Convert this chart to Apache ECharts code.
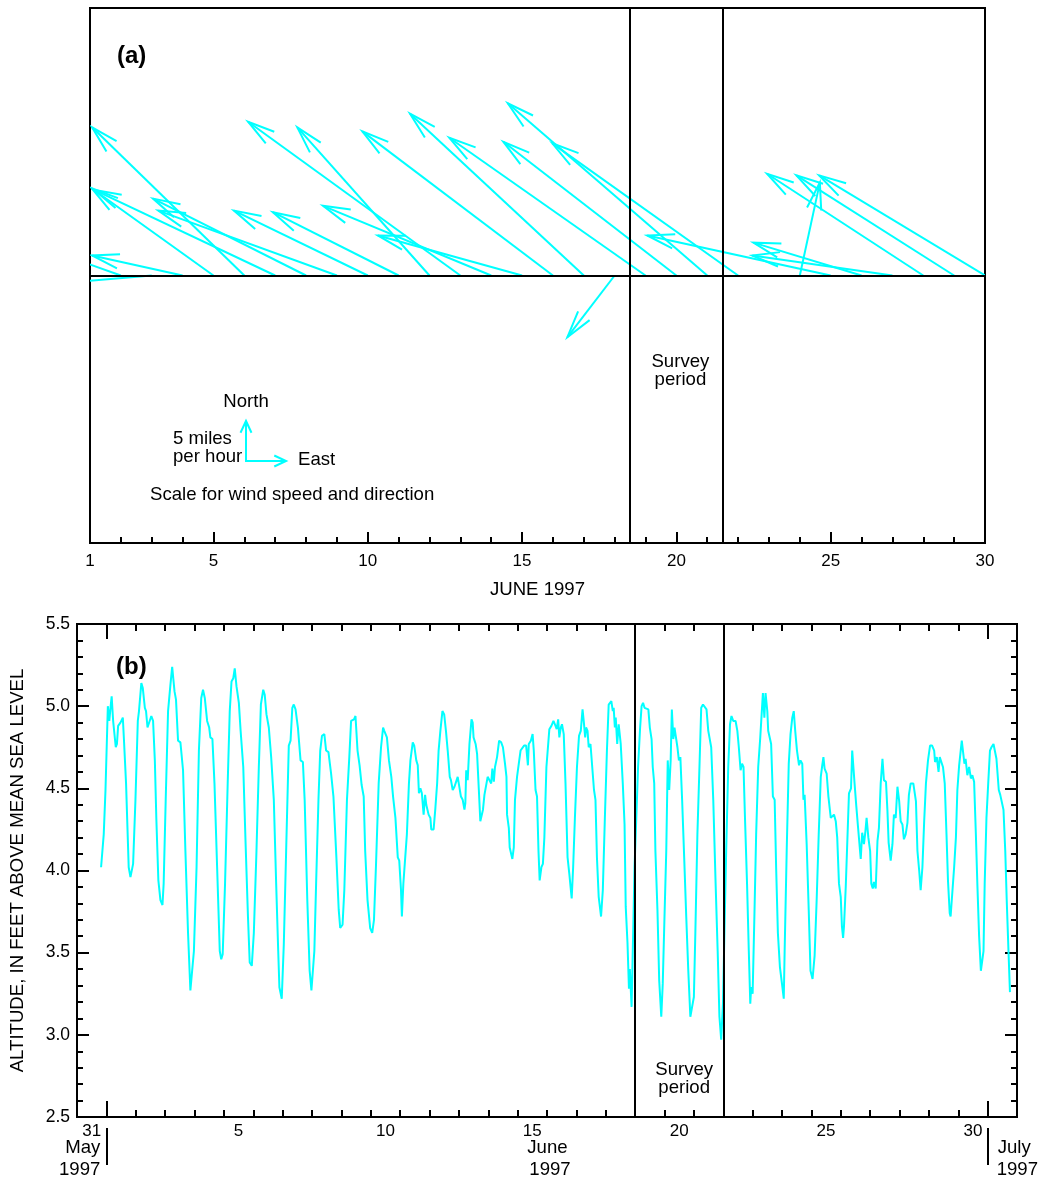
<!DOCTYPE html>
<html>
<head>
<meta charset="utf-8">
<script src="https://cdn.jsdelivr.net/npm/echarts@6/dist/echarts.min.js"></script>
<style>
html,body{margin:0;padding:0;background:#ffffff;}
#c{width:1038px;height:1177px;}
</style>
</head>
<body>
<div id="c"></div>
<script>
// ---------- Panel (a): daily wind vectors, June 1997 ----------
const windDay   = [1,2,3,4,5,6,7,8,9,10,11,12,13,14,15,16,17,18,19,20,21,22,23,24,25,26,27,28,29,30];
// eastward component, miles per hour (negative = toward west)
const windEast  = [-15,-14,-12,-11.3,-15.2,-19.0,-22.6,-19.1,-22.3,-16.7,-15.7,-16.5,-26.5,-21.0,-18.0,-23.8,-21.7,-5.9,-24.5,-21.6,-24.9,-23.2,0,2.5,-22.9,-13.5,-17.5,-19.5,-19.7,-20.7];
// northward component, miles per hour (negative = toward south)
const windNorth = [3,5,-1,2.5,10.9,18.5,10.7,9.6,8.1,8.1,7.9,18.5,19.2,8.7,5.0,18.0,20.2,-7.7,17.2,16.7,21.5,16.5,0,11.6,5.0,4.1,2.5,12.7,12.5,12.5];
const windTickLabels = [1,5,10,15,20,25,30];
const windMajorTicks = [5,10,15,20,25];
const surveyA = [18.5, 21.5];
const scaleMph = 5;

// ---------- Panel (b): water level, days since 31 May 1997 00:00 ----------
const levelDay = [0.82,0.91,0.97,1.05,1.10,1.14,1.18,1.23,1.32,1.36,1.40,1.48,1.56,1.60,1.67,1.76,1.82,1.87,1.91,1.99,
2.07,2.11,2.19,2.24,2.31,2.35,2.40,2.46,2.53,2.59,2.65,2.70,2.77,2.84,2.91,2.95,3.02,3.10,3.18,3.24,3.28,3.32,3.37,3.44,3.52,3.61,3.69,3.78,3.86,3.92,3.98,
4.07,4.15,4.23,4.29,4.35,4.43,4.50,4.54,4.61,4.68,4.77,4.86,4.91,4.96,5.04,5.13,5.20,5.26,5.32,5.37,5.43,5.51,5.57,5.60,5.66,5.74,5.82,5.88,5.95,
6.02,6.11,6.19,6.26,6.34,6.39,6.45,6.53,6.61,6.70,6.78,6.85,6.89,6.93,6.97,7.04,7.12,7.21,7.27,7.33,7.38,7.44,7.52,7.61,7.69,7.75,7.84,7.92,7.98,
8.08,8.14,8.22,8.28,8.34,8.42,8.48,8.56,8.65,8.73,8.83,8.91,8.96,9.04,9.10,9.19,9.27,9.33,9.37,9.43,9.48,9.55,9.62,9.69,9.76,9.81,9.89,9.98,
10.05,10.11,10.18,10.27,10.35,10.42,10.46,10.55,10.62,10.70,10.76,10.84,10.92,10.97,11.03,11.06,11.11,11.16,11.23,11.30,11.35,11.43,11.48,11.55,11.60,11.64,11.69,11.74,11.80,11.85,11.89,11.97,
12.03,12.06,12.14,12.20,12.26,12.31,12.37,12.44,12.50,12.56,12.62,12.69,12.73,12.79,12.85,12.89,12.96,13.02,13.07,13.13,13.19,13.22,13.25,13.30,13.36,13.43,13.47,13.50,13.57,13.62,13.68,13.73,13.78,13.82,13.87,13.93,13.98,
14.04,14.10,14.14,14.19,14.23,14.30,14.37,14.44,14.50,14.57,14.62,14.64,14.70,14.73,14.78,14.82,14.87,14.91,14.98,15.04,15.10,15.16,15.22,15.29,15.35,15.38,15.45,15.51,15.55,15.61,15.66,15.71,15.75,15.81,15.86,15.91,15.98,
16.08,16.15,16.22,16.29,16.33,16.38,16.42,16.47,16.51,16.57,16.63,16.70,16.76,16.84,16.89,16.95,17.02,17.09,17.15,17.21,17.25,17.30,17.33,17.38,17.42,17.48,17.54,17.60,17.65,17.70,17.76,17.84,17.90,17.97,
18.04,18.10,18.16,18.19,18.24,18.27,18.31,18.34,18.39,18.44,18.51,18.58,18.64,18.68,18.74,18.79,18.82,18.88,18.92,18.98,19.04,19.10,19.17,19.22,19.27,19.32,19.38,19.45,19.50,19.56,19.60,19.65,19.69,19.76,19.82,19.89,19.94,
20.00,20.06,20.11,20.16,20.21,20.25,20.30,20.34,20.39,20.44,20.49,20.54,20.60,20.67,20.74,20.81,20.88,20.94,21.00,21.05,21.12,21.19,21.25,21.31,21.36,21.43,21.49,21.53,21.59,21.66,21.74,21.81,21.87,21.93,21.99,
22.04,22.10,22.17,22.23,22.28,22.34,22.42,22.48,22.53,22.59,22.64,22.69,22.74,22.81,22.87,22.92,22.95,23.00,23.06,23.12,23.19,23.26,23.30,23.35,23.40,23.44,23.50,23.53,23.58,23.63,23.69,23.75,23.80,23.86,23.93,24.00,24.06,
24.09,24.16,24.23,24.29,24.35,24.40,24.45,24.51,24.58,24.63,24.69,24.73,24.77,24.84,24.91,24.97,25.04,25.11,25.18,25.25,25.32,25.37,25.41,25.45,25.52,25.58,25.62,25.66,25.72,25.77,25.83,25.88,25.94,
26.00,26.04,26.08,26.11,26.17,26.22,26.28,26.35,26.39,26.43,26.47,26.53,26.59,26.68,26.73,26.79,26.84,26.88,26.94,27.00,27.04,27.09,27.13,27.19,27.25,27.30,27.36,27.42,27.47,27.54,27.59,27.63,27.70,27.76,27.81,27.87,27.93,27.99,
28.04,28.10,28.15,28.21,28.27,28.32,28.38,28.42,28.47,28.52,28.56,28.61,28.67,28.72,28.78,28.84,28.90,28.97,29.04,29.11,29.18,29.21,29.27,29.33,29.37,29.43,29.48,29.54,29.60,29.65,29.71,29.74,29.80,29.86,29.92,29.97,
30.03,30.08,30.12,30.16,30.21,30.25,30.31,30.37,30.43,30.48,30.54,30.60,30.65,30.71,30.77,30.81,30.86,30.90,30.96,31.02,31.08,31.13,31.20,31.25,31.30,31.35,31.38,31.43,31.48,31.54,31.60,31.65,31.71,31.76];
const levelFeet = [4.02,4.22,4.49,5.00,4.91,4.99,5.06,4.91,4.75,4.77,4.88,4.90,4.93,4.79,4.53,4.02,3.96,3.96,4.04,4.43,
4.91,4.97,5.14,5.11,4.99,4.97,4.87,4.87,4.94,4.91,4.67,4.32,3.94,3.82,3.79,3.92,4.43,4.97,5.13,5.24,5.23,5.09,5.04,4.79,4.78,4.61,4.12,3.62,3.27,3.26,3.51,
4.02,4.73,5.05,5.10,5.05,4.91,4.87,4.81,4.80,4.53,4.02,3.51,3.46,3.49,3.92,4.53,4.97,5.15,5.17,5.23,5.12,5.02,4.85,4.84,4.63,4.16,3.72,3.44,3.42,
3.62,4.12,4.63,5.01,5.10,5.07,4.95,4.87,4.69,4.43,3.92,3.51,3.29,3.28,3.22,3.55,4.12,4.76,4.79,4.99,5.01,4.98,4.87,4.67,4.66,4.43,3.82,3.39,3.27,
3.51,3.92,4.43,4.73,4.82,4.83,4.73,4.72,4.59,4.45,4.08,3.76,3.65,3.67,3.88,4.43,4.69,4.91,4.92,4.92,4.94,4.73,4.64,4.52,4.45,4.12,3.82,3.65,
3.62,3.70,4.04,4.53,4.75,4.87,4.85,4.81,4.67,4.57,4.45,4.32,4.08,4.06,3.88,3.72,3.92,3.91,4.22,4.53,4.67,4.78,4.76,4.67,4.64,4.47,4.50,4.47,4.34,4.46,4.40,4.34,
4.32,4.25,4.25,4.38,4.53,4.73,4.85,4.97,4.95,4.85,4.73,4.57,4.55,4.49,4.51,4.51,4.57,4.57,4.45,4.43,4.37,4.41,4.61,4.55,4.77,4.92,4.90,4.81,4.77,4.71,4.49,4.30,4.29,4.37,4.46,4.47,4.57,
4.56,4.53,4.62,4.54,4.63,4.69,4.79,4.78,4.75,4.65,4.57,4.34,4.26,4.14,4.14,4.07,4.14,4.43,4.57,4.65,4.73,4.73,4.76,4.76,4.64,4.77,4.79,4.83,4.73,4.49,4.45,4.12,3.94,4.02,4.04,4.20,4.63,
4.86,4.88,4.91,4.88,4.86,4.92,4.81,4.87,4.89,4.83,4.53,4.08,3.98,3.83,4.02,4.32,4.63,4.82,4.85,4.98,4.91,4.81,4.87,4.85,4.75,4.77,4.78,4.49,4.43,4.08,3.84,3.72,3.88,4.32,
4.73,5.01,5.01,5.03,4.97,4.99,4.87,4.93,4.77,4.89,4.77,4.53,4.28,3.78,3.56,3.28,3.40,3.17,3.51,4.02,4.32,4.63,4.87,5.00,5.02,4.99,5.00,4.98,4.87,4.80,4.63,4.53,4.12,3.76,3.33,3.11,3.31,
3.72,4.12,4.67,4.49,4.67,4.98,4.80,4.87,4.88,4.75,4.67,4.69,4.43,4.08,3.72,3.39,3.11,3.17,3.23,3.62,4.22,4.63,4.99,5.01,5.00,4.98,4.85,4.81,4.75,4.43,3.92,3.51,3.11,2.97,3.19,
3.62,4.12,4.63,4.89,4.94,4.91,4.91,4.85,4.75,4.61,4.65,4.63,4.32,3.92,3.51,3.19,3.29,3.25,3.72,4.22,4.63,4.81,4.93,5.08,4.93,5.08,4.97,4.85,4.84,4.77,4.45,4.43,4.02,3.62,3.41,3.31,3.22,
3.51,4.12,4.65,4.83,4.93,4.97,4.85,4.73,4.64,4.67,4.65,4.43,4.46,4.16,3.76,3.39,3.34,3.48,3.82,4.22,4.57,4.64,4.69,4.62,4.59,4.45,4.44,4.32,4.32,4.34,4.30,4.20,3.92,
3.84,3.66,3.59,3.66,3.90,3.90,4.47,4.50,4.73,4.73,4.53,4.39,4.26,4.07,4.23,4.16,4.24,4.32,4.20,4.12,3.92,3.89,3.93,3.89,4.18,4.26,4.53,4.68,4.55,4.54,4.36,4.17,4.06,4.16,4.34,4.32,4.51,4.42,
4.30,4.28,4.19,4.22,4.29,4.46,4.53,4.54,4.53,4.54,4.42,4.12,4.00,3.88,4.02,4.30,4.53,4.67,4.76,4.76,4.73,4.66,4.69,4.60,4.69,4.70,4.63,4.53,4.22,3.94,3.74,3.72,3.71,4.02,4.20,4.49,
4.64,4.64,4.79,4.78,4.65,4.68,4.58,4.63,4.56,4.58,4.54,4.22,3.92,3.60,3.39,3.38,3.51,3.92,4.32,4.53,4.73,4.75,4.77,4.76,4.68,4.67,4.49,4.46,4.45,4.37,4.12,3.82,3.51,3.26];
const levelTickPos = [0.5,5.5,10.5,15.5,20.5,25.5,30.5];
const levelTickLabels = ['31','5','10','15','20','25','30'];
const monthStarts = [1, 31];      // 1 June 00:00, 1 July 00:00
const surveyB = [19, 22];

// ---------- chart ----------
const FONT = '"Liberation Sans", Arial, Helvetica, sans-serif';
const CYAN = '#00ffff';
const BLACK = '#000000';
const TXT = 18.6;
const dayTicksA = []; for (let d = 2; d <= 29; d++) if (windMajorTicks.indexOf(d) < 0) dayTicksA.push(d);
const dayTicksB = []; for (let d = 0; d <= 32; d++) dayTicksB.push(d);

const chart = echarts.init(document.getElementById('c'), null, {renderer: 'canvas', width: 1038, height: 1177});

function renderWind(params, api) {
  const u = api.value(1), v = api.value(2);
  if (u === 0 && v === 0) return null;   // calm: nothing drawn
  const base = api.coord([api.value(0), 0]);
  const k = api.size([0, 1])[1];
  const tip = [base[0] + u * k, base[1] - v * k];
  const back = Math.atan2(base[1] - tip[1], base[0] - tip[0]);
  const L = 28, h = 15 * Math.PI / 180;
  const b1 = [tip[0] + L * Math.cos(back + h), tip[1] + L * Math.sin(back + h)];
  const b2 = [tip[0] + L * Math.cos(back - h), tip[1] + L * Math.sin(back - h)];
  return {
    type: 'group',
    children: [
      {type: 'line', shape: {x1: base[0], y1: base[1], x2: tip[0], y2: tip[1]}, style: {stroke: CYAN, lineWidth: 2}},
      {type: 'polyline', shape: {points: [b1, tip, b2]}, style: {stroke: CYAN, lineWidth: 2, fill: null}}
    ]
  };
}

const lineBlack = {color: BLACK, width: 2};
const option = {
  animation: false,
  backgroundColor: '#ffffff',
  textStyle: {fontFamily: FONT, color: BLACK},
  grid: [
    {left: 90, top: 8, width: 895, height: 535, show: true, borderColor: BLACK, borderWidth: 2, backgroundColor: 'transparent'},
    {left: 77, top: 624, width: 940, height: 493, show: true, borderColor: BLACK, borderWidth: 2, backgroundColor: 'transparent'}
  ],
  xAxis: [
    {gridIndex: 0, type: 'value', min: 1, max: 30, position: 'bottom',
      axisLine: {onZero: false, lineStyle: lineBlack},
      axisTick: {customValues: windMajorTicks, inside: true, length: 11, lineStyle: lineBlack},
      axisLabel: {customValues: windTickLabels, fontSize: 17, color: BLACK, margin: 10, fontFamily: FONT},
      splitLine: {show: false},
      name: 'JUNE 1997', nameLocation: 'middle', nameGap: 37,
      nameTextStyle: {fontSize: TXT, color: BLACK, fontFamily: FONT}},
    {gridIndex: 0, type: 'value', min: 1, max: 30, position: 'bottom',
      axisLine: {show: false, onZero: false},
      axisTick: {customValues: dayTicksA, inside: true, length: 6, lineStyle: lineBlack},
      axisLabel: {show: false}, splitLine: {show: false}},
    // panel b bottom
    {gridIndex: 1, type: 'value', min: 0, max: 32, position: 'bottom',
      axisLine: {onZero: false, lineStyle: lineBlack},
      axisTick: {customValues: dayTicksB, inside: true, length: 7, lineStyle: lineBlack},
      axisLabel: {customValues: levelTickPos, fontSize: 17, color: BLACK, margin: 6, fontFamily: FONT,
        formatter: function (v) { const i = levelTickPos.indexOf(v); return i >= 0 ? levelTickLabels[i] : ''; }},
      splitLine: {show: false}},
    {gridIndex: 1, type: 'value', min: 0, max: 32, position: 'bottom',
      axisLine: {show: false, onZero: false},
      axisTick: {customValues: monthStarts, inside: true, length: 16, lineStyle: lineBlack},
      axisLabel: {show: false}, splitLine: {show: false}},
    {gridIndex: 1, type: 'value', min: 0, max: 32, position: 'bottom', offset: 11,
      axisLine: {show: false, onZero: false},
      axisTick: {customValues: monthStarts, inside: false, length: 37, lineStyle: lineBlack},
      axisLabel: {show: false}, splitLine: {show: false}},
    // panel b top
    {gridIndex: 1, type: 'value', min: 0, max: 32, position: 'top',
      axisLine: {onZero: false, lineStyle: lineBlack},
      axisTick: {customValues: dayTicksB, inside: true, length: 7, lineStyle: lineBlack},
      axisLabel: {show: false}, splitLine: {show: false}},
    {gridIndex: 1, type: 'value', min: 0, max: 32, position: 'top',
      axisLine: {show: false, onZero: false},
      axisTick: {customValues: monthStarts, inside: true, length: 15, lineStyle: lineBlack},
      axisLabel: {show: false}, splitLine: {show: false}}
  ],
  yAxis: [
    {gridIndex: 0, type: 'value', min: -33.4, max: 33.4, show: false},
    {gridIndex: 1, type: 'value', min: 2.5, max: 5.5, interval: 0.5, position: 'left',
      axisLine: {onZero: false, lineStyle: lineBlack},
      axisTick: {inside: true, length: 12, lineStyle: lineBlack},
      minorTick: {show: true, splitNumber: 5, length: 6, lineStyle: lineBlack},
      axisLabel: {formatter: function (v) { return v.toFixed(1); }, fontSize: 17.5, color: BLACK, margin: 7, fontFamily: FONT},
      splitLine: {show: false}, minorSplitLine: {show: false},
      name: 'ALTITUDE, IN FEET ABOVE MEAN SEA LEVEL', nameLocation: 'middle', nameGap: 50, nameRotate: 90,
      nameTextStyle: {fontSize: TXT, color: BLACK, fontFamily: FONT}},
    {gridIndex: 1, type: 'value', min: 2.5, max: 5.5, interval: 0.5, position: 'right',
      axisLine: {onZero: false, lineStyle: lineBlack},
      axisTick: {inside: true, length: 12, lineStyle: lineBlack},
      minorTick: {show: true, splitNumber: 5, length: 6, lineStyle: lineBlack},
      axisLabel: {show: false}, splitLine: {show: false}, minorSplitLine: {show: false}}
  ],
  series: [
    {type: 'custom', name: 'wind', xAxisIndex: 0, yAxisIndex: 0, clip: true, z: 3,
      renderItem: renderWind,
      data: windDay.map(function (d, i) { return [d, windEast[i], windNorth[i]]; }),
      markLine: {silent: true, symbol: ['none', 'none'], label: {show: false},
        lineStyle: {color: BLACK, width: 2, type: 'solid'},
        emphasis: {disabled: true},
        data: [{yAxis: 0}].concat(surveyA.map(function (x) { return {xAxis: x}; }))}},
    {type: 'line', name: 'level', xAxisIndex: 2, yAxisIndex: 1, showSymbol: false, symbol: 'none',
      lineStyle: {color: CYAN, width: 2}, itemStyle: {color: CYAN},
      data: levelDay.map(function (d, i) { return [d, levelFeet[i]]; }),
      markLine: {silent: true, symbol: ['none', 'none'], label: {show: false},
        lineStyle: {color: BLACK, width: 2, type: 'solid'},
        emphasis: {disabled: true},
        data: surveyB.map(function (x) { return {xAxis: x}; })}}
  ]
};
chart.setOption(option);

// ---------- annotations ----------
const toA = function (p) { return chart.convertToPixel({gridIndex: 0}, p); };
const toB = function (p) { return chart.convertToPixel({gridIndex: 1}, p); };
function txt(text, x, y, align, size, weight, lh) {
  return {type: 'text', silent: true, z: 100,
    style: {text: text, x: x, y: y, fill: BLACK, fontSize: size || TXT, fontWeight: weight || 'normal', fontFamily: FONT,
      align: align || 'left', verticalAlign: 'middle', textAlign: align || 'left', textVerticalAlign: 'middle',
      lineHeight: lh || 18}};
}
const k5 = toA([1, 0])[1] - toA([1, scaleMph])[1];
const O = [246, 461];
function arrowHead(tip, ang, L, h) {
  return [[tip[0] + L * Math.cos(ang + h), tip[1] + L * Math.sin(ang + h)], tip, [tip[0] + L * Math.cos(ang - h), tip[1] + L * Math.sin(ang - h)]];
}
const hN = [O[0], O[1] - k5];
const hE = [O[0] + k5, O[1]];
const ha = 25 * Math.PI / 180;
const sA = (toA([surveyA[0], 0])[0] + toA([surveyA[1], 0])[0]) / 2 + 4;
const sB = (toB([surveyB[0], 3])[0] + toB([surveyB[1], 3])[0]) / 2 + 5;
const xJune1 = toB([monthStarts[0], 3])[0];
const xJuly1 = toB([monthStarts[1], 3])[0];
const xJ15 = toB([15.5, 3])[0];

chart.setOption({
  graphic: [
    txt('(a)', 117, 56, 'left', 24, 'bold'),
    txt('(b)', 116, 667, 'left', 24, 'bold'),
    txt('Survey\nperiod', sA, 371, 'center'),
    txt('Survey\nperiod', sB, 1079, 'center'),
    txt('North', O[0], 401.5, 'center'),
    txt('5 miles\nper hour', 173, 447.5, 'left'),
    txt('East', 298, 459.5, 'left'),
    txt('Scale for wind speed and direction', 150, 495, 'left'),
    txt('May', xJune1 - 6, 1148, 'right'),
    txt('1997', xJune1 - 6, 1170, 'right'),
    txt('June', xJ15 - 5, 1148, 'left'),
    txt('1997', xJ15 - 3, 1170, 'left'),
    txt('July', xJuly1 + 10, 1148, 'left'),
    txt('1997', xJuly1 + 9, 1170, 'left'),
    {type: 'polyline', silent: true, z: 100, shape: {points: [hN, O, hE]}, style: {stroke: CYAN, lineWidth: 2, fill: null}},
    {type: 'polyline', silent: true, z: 100, shape: {points: arrowHead(hN, Math.PI / 2, 13, ha)}, style: {stroke: CYAN, lineWidth: 2, fill: null}},
    {type: 'polyline', silent: true, z: 100, shape: {points: arrowHead(hE, Math.PI, 13, ha)}, style: {stroke: CYAN, lineWidth: 2, fill: null}}
  ]
});
</script>
</body>
</html>
